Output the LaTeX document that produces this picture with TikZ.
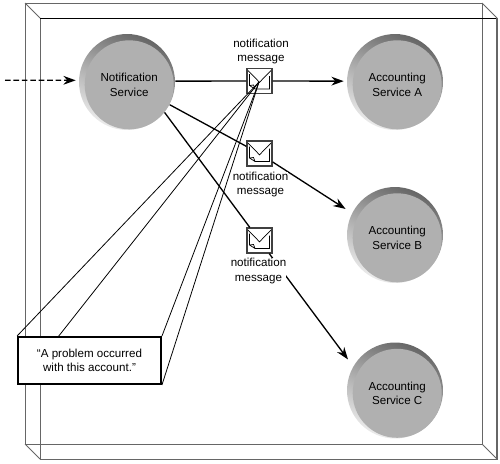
\documentclass[tikz,border=0pt]{standalone}
\usepackage{fontspec}
\setmainfont{Liberation Sans}
\usetikzlibrary{arrows.meta}

\begin{document}
\begin{tikzpicture}[
    x=0.02cm, y=-0.02cm,
    every node/.style={font=\fontsize{6.6}{8.3}\selectfont, align=center},
    frame/.style={draw=black!60, line width=0.55pt},
    rim/.style={circle, inner sep=0pt, minimum size=1.92cm, top color=black!60, bottom color=black!8, shading angle=-25},
    service/.style={circle, inner sep=0pt, minimum size=1.78cm, fill=black!31},
    envelope/.style={draw=black!75, line width=0.7pt, fill=white, minimum size=0.5cm, inner sep=0pt,
        path picture={
            \draw[black, line width=0.4pt, shift={(path picture bounding box.center)}]
                (-12.5,-11.5) -- (0,1.3) -- (12.5,-11.5)
                (-10,-7) -- (-10,4.5) -- (-4.5,8) -- (10,8) -- (10,-5)
                (-10,4.5) -- (-6,4) -- (-4.5,8);
        }},
    label/.style={fill=white, inner sep=0pt},
    callout/.style={draw=black, line width=1.1pt, fill=white, minimum width=2.86cm, minimum height=0.94cm, inner sep=0pt},
    pointer/.style={draw=black, line width=0.45pt},
    message/.style={draw=black, line width=0.75pt},
    tip/.style={-{Stealth[length=7pt, width=5pt]}}
]

    \useasboundingbox (0,0) rectangle (500,463);

    % Frame
    \draw[frame] (25,3) rectangle (482,444);
    \draw[frame] (40,18) rectangle (497,459);
    \draw[frame] (25,3) -- (40,18);
    \draw[frame] (482,3) -- (497,18);
    \draw[frame] (25,444) -- (40,459);
    \draw[frame] (482,444) -- (497,459);
    \draw[black, line width=0.55pt] (40,18) -- (497,18);
    \draw[black!60, line width=0.8pt] (497,18) -- (497,459);

    % Services
    \node[rim] (notifyrim) at (127,82) {};
    \node[service] (notify) at (129.2,84.8) {Notification\\Service};

    \node[rim] (acctArim) at (395,82) {};
    \node[service] (acctA) at (397.2,84.8) {Accounting\\Service A};

    \node[rim] (acctBrim) at (395,235) {};
    \node[service] (acctB) at (397.2,237.8) {Accounting\\Service B};

    \node[rim] (acctCrim) at (395,390.5) {};
    \node[service] (acctC) at (397.2,393.3) {Accounting\\Service C};

    % Envelopes
    \node[envelope] (msgA) at (259.5,81) {};
    \node[envelope] (msgB) at (259.5,153.5) {};
    \node[envelope] (msgC) at (259.5,240.5) {};

    % Callout
    \node[callout] (callout) at (89.5,360.5) {“A problem occurred\\with this account.”};
    \coordinate (calloutmark) at (58,337);
    \coordinate (msgApex) at (259,82);
    \draw[pointer] (callout.north west) -- (msgApex);
    \draw[pointer] (calloutmark) -- (msgApex);
    \draw[pointer] (callout.north east) -- (msgApex);
    \draw[pointer] (callout.south east) -- (msgApex);

    % Messages
    \draw[message] (notifyrim.1) -- (msgA);
    \draw[message, tip, shorten >=1.7pt] (msgA) -- (acctArim.179);
    \draw[message] (notifyrim.-28) -- (msgB);
    \draw[message, tip, shorten >=4.3pt] (msgB) -- (acctBrim.153);
    \draw[message] (notifyrim.-39) -- (msgC);
    \draw[message, tip, shorten >=4.9pt] (msgC) -- (acctCrim.150);

    % Labels
    \node[inner sep=0pt] (labelA) at (261,51.5) {notification\\message};
    \node[label] (labelB) at (260.5,184.5) {notification\\message};
    \node[label] (labelC) at (258.5,271) {notification\\message};

    % Input
    \coordinate (input) at (5,80.3);
    \draw[message, dash pattern=on 3.2pt off 1.6pt, tip, shorten >=1.7pt] (input) -- (notifyrim.178);

\end{tikzpicture}
\end{document}
